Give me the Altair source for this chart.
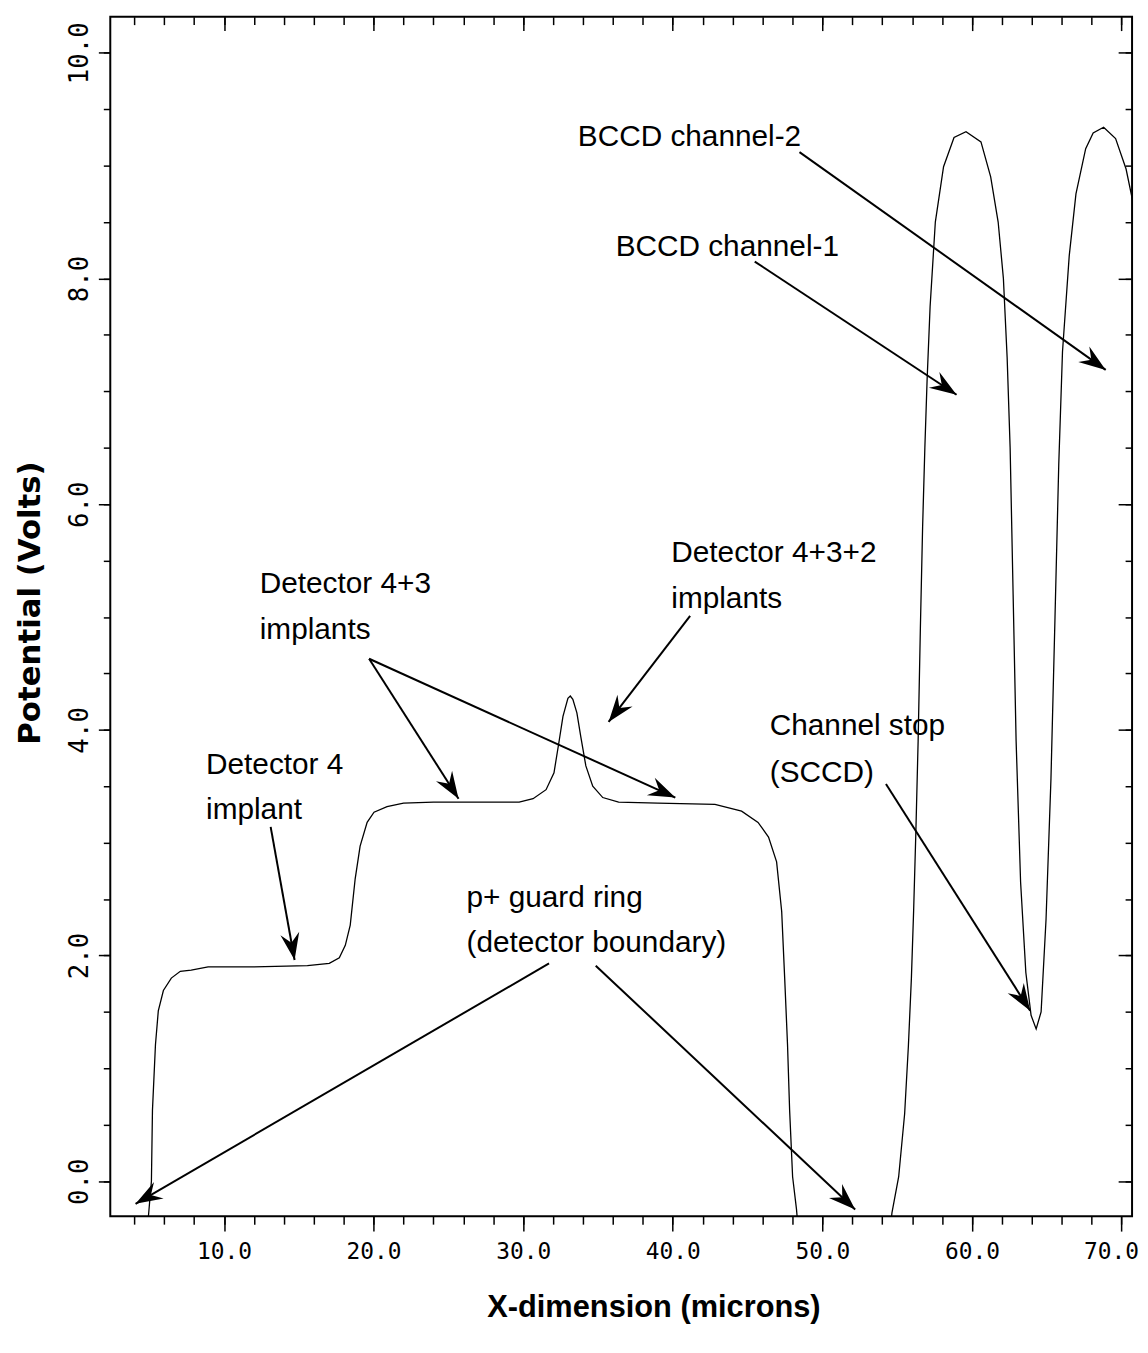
import math
import altair as alt
import pandas as pd

# ---- potential profile ----
curve_x = [4.85, 4.95, 5.15, 5.22, 5.42, 5.61, 5.95, 6.48, 7.08, 7.81, 8.94, 12.0, 15.58,
           17.04, 17.71, 18.11, 18.44, 18.77, 19.10, 19.57, 20.03, 20.90, 22.0, 24.0, 27.0,
           29.73, 30.66, 31.53, 32.06, 32.39, 32.66, 32.99, 33.15, 33.32, 33.59, 33.85, 34.19,
           34.65, 35.32, 36.38, 39.0, 42.82, 44.6, 45.7, 46.4, 46.94, 47.28, 47.48, 47.67,
           47.81, 48.01, 48.27, 48.5,
           54.4, 54.65, 55.1, 55.5, 55.75, 55.95, 56.1, 56.25, 56.4, 56.55, 56.7, 56.85, 57.0,
           57.2, 57.55, 58.1, 58.8, 59.6, 60.6, 61.25, 61.75, 62.1, 62.35, 62.55, 62.75, 62.95,
           63.25, 63.6, 63.95, 64.29, 64.62, 64.95, 65.28, 65.55, 65.8, 66.05, 66.5, 66.95,
           67.6, 68.1, 68.8, 69.6, 70.3, 70.8]
curve_y = [-0.5, -0.31, 0.0, 0.63, 1.21, 1.51, 1.69, 1.80, 1.86, 1.87, 1.90, 1.90, 1.91,
           1.93, 1.98, 2.09, 2.27, 2.68, 2.97, 3.18, 3.27, 3.32, 3.35, 3.36, 3.36,
           3.36, 3.39, 3.47, 3.62, 3.89, 4.12, 4.28, 4.30, 4.27, 4.15, 3.94, 3.68,
           3.50, 3.40, 3.36, 3.35, 3.34, 3.28, 3.18, 3.05, 2.83, 2.39, 1.80, 1.21,
           0.63, 0.04, -0.25, -0.6,
           -0.6, -0.28, 0.04, 0.6, 1.2, 1.8, 2.4, 3.1, 3.9, 4.9, 5.8, 6.5, 7.1,
           7.75, 8.5, 8.99, 9.25, 9.30, 9.21, 8.9, 8.5, 8.0, 7.3, 6.5, 5.2, 3.9,
           2.65, 1.85, 1.47, 1.35, 1.50, 2.32, 3.57, 5.0, 6.35, 7.35, 8.2, 8.75,
           9.15, 9.29, 9.34, 9.24, 8.97, 8.65]

# ---- annotation texts ----
label_text = ["BCCD channel-2", "BCCD channel-1", "Detector 4+3+2", "implants",
              "Detector 4+3", "implants", "Detector 4", "implant",
              "p+ guard ring", "(detector boundary)", "Channel stop", "(SCCD)"]
label_x = [33.65, 36.18, 39.90, 39.90, 12.39, 12.39, 8.80, 8.80, 26.21, 26.21, 46.48, 46.48]
label_y = [9.25, 8.28, 5.57, 5.16, 5.29, 4.88, 3.69, 3.29, 2.51, 2.11, 4.03, 3.62]

# ---- annotation arrows (tail -> tip) ----
arrow_x0 = [48.47, 45.48, 41.16, 19.70, 19.70, 13.12, 31.73, 34.85, 54.25]
arrow_y0 = [9.12, 8.15, 5.01, 4.63, 4.63, 3.14, 1.93, 1.91, 3.52]
arrow_x1 = [68.94, 58.97, 35.71, 25.68, 40.17, 14.72, 4.09, 52.19, 63.89]
arrow_y1 = [7.19, 6.97, 4.07, 3.39, 3.40, 1.96, -0.20, -0.25, 1.51]

# ---- axis tick values ----
x_major = [10, 20, 30, 40, 50, 60, 70]
x_minor = [4, 6, 8, 10, 12, 14, 16, 18, 20, 22, 24, 26, 28, 30, 32, 34, 36, 38, 40,
           42, 44, 46, 48, 50, 52, 54, 56, 58, 60, 62, 64, 66, 68, 70]
y_major = [0, 2, 4, 6, 8, 10]
y_minor = [0, 0.5, 1, 1.5, 2, 2.5, 3, 3.5, 4, 4.5, 5, 5.5, 6, 6.5, 7, 7.5, 8, 8.5, 9, 9.5, 10]

X_DOM = [2.4, 70.7]
Y_DOM = [-0.31, 10.32]
W, H = 1029, 1208

curve_df = pd.DataFrame({"x": curve_x, "y": curve_y})
text_df = pd.DataFrame({"x": label_x, "y": label_y, "t": label_text})
ang = []
for a, b, c, d in zip(arrow_x0, arrow_y0, arrow_x1, arrow_y1):
    dx = (c - a) * W / (X_DOM[1] - X_DOM[0])
    dy = -(d - b) * H / (Y_DOM[1] - Y_DOM[0])
    ang.append(math.degrees(math.atan2(dx, -dy)) % 360)
arrow_df = pd.DataFrame({"x": arrow_x0, "y": arrow_y0, "x2": arrow_x1, "y2": arrow_y1, "ang": ang})
head_df = pd.DataFrame({"x": arrow_x1, "y": arrow_y1, "ang": ang})

xs = alt.Scale(domain=X_DOM, nice=False, zero=False)
ys = alt.Scale(domain=Y_DOM, nice=False, zero=False)

line = alt.Chart(curve_df).mark_line(color="black", strokeWidth=1.3, clip=True).encode(
    x=alt.X("x:Q", scale=xs, axis=alt.Axis(
        orient="bottom", values=x_major, format=".1f", tickSize=15, labelPadding=10,
        labelFlush=12, labelFlushOffset=17,
        labelFont="DejaVu Sans Mono", labelFontSize=23, labelColor="black",
        title="X-dimension (microns)", titleX=547, titleY=92, titleAlign="center",
        titleBaseline="middle", titleFont="Liberation Sans", titleFontSize=31,
        titleFontWeight="bold", titleColor="black")),
    y=alt.Y("y:Q", scale=ys, axis=alt.Axis(
        orient="left", values=y_major, format=".1f", tickSize=12, labelPadding=6,
        labelAngle=270, labelAlign="center", labelBaseline="bottom",
        labelFont="DejaVu Sans Mono", labelFontSize=26, labelColor="black",
        title="Potential (Volts)", titleX=-80, titleY=590, titleAngle=270,
        titleAlign="center", titleBaseline="middle", titleFont="DejaVu Sans",
        titleFontSize=31, titleFontWeight="bold", titleColor="black")),
)

arrows = alt.Chart(arrow_df).mark_rule(color="black", strokeWidth=2).encode(
    x=alt.X("x:Q", scale=xs, axis=alt.Axis(orient="bottom", values=x_minor, tickSize=8,
                                           labels=False, title=None)),
    y=alt.Y("y:Q", scale=ys, axis=alt.Axis(orient="left", values=y_minor, tickSize=7,
                                           labels=False, title=None)),
    x2="x2:Q", y2="y2:Q",
)

heads = alt.Chart(head_df).mark_point(
    shape="M0,0 L0.62,1.75 L0,1.15 L-0.62,1.75 Z", filled=True, color="black", opacity=1,
    size=960, strokeWidth=0).encode(
    x=alt.X("x:Q", scale=xs, axis=alt.Axis(orient="bottom", offset=-H, values=x_major,
                                           tickSize=14, labels=False, title=None)),
    y=alt.Y("y:Q", scale=ys, axis=alt.Axis(orient="left", offset=-W, values=y_major,
                                           tickSize=14, labels=False, title=None)),
    angle=alt.Angle("ang:Q", scale=None),
)

texts = alt.Chart(text_df).mark_text(
    font="Liberation Sans", fontSize=30, align="left", baseline="middle", color="black").encode(
    x=alt.X("x:Q", scale=xs, axis=alt.Axis(orient="bottom", offset=-H, values=x_minor,
                                           tickSize=8, labels=False, title=None)),
    y=alt.Y("y:Q", scale=ys, axis=alt.Axis(orient="left", offset=-W, values=y_minor,
                                           tickSize=7, labels=False, title=None)),
    text="t:N",
)

chart = alt.layer(line, arrows, heads, texts).resolve_axis(
    x="independent", y="independent"
).properties(
    width=W, height=H,
    autosize=alt.AutoSizeParams(type="none"),
    padding={"left": 103, "top": 4, "right": 8, "bottom": 130},
    background="white",
).configure_view(stroke="black", strokeWidth=2).configure_axis(
    domain=False, grid=False, tickColor="black", tickWidth=1.5
)

chart.save("out.html", embed_options={"renderer": "svg", "actions": False})
